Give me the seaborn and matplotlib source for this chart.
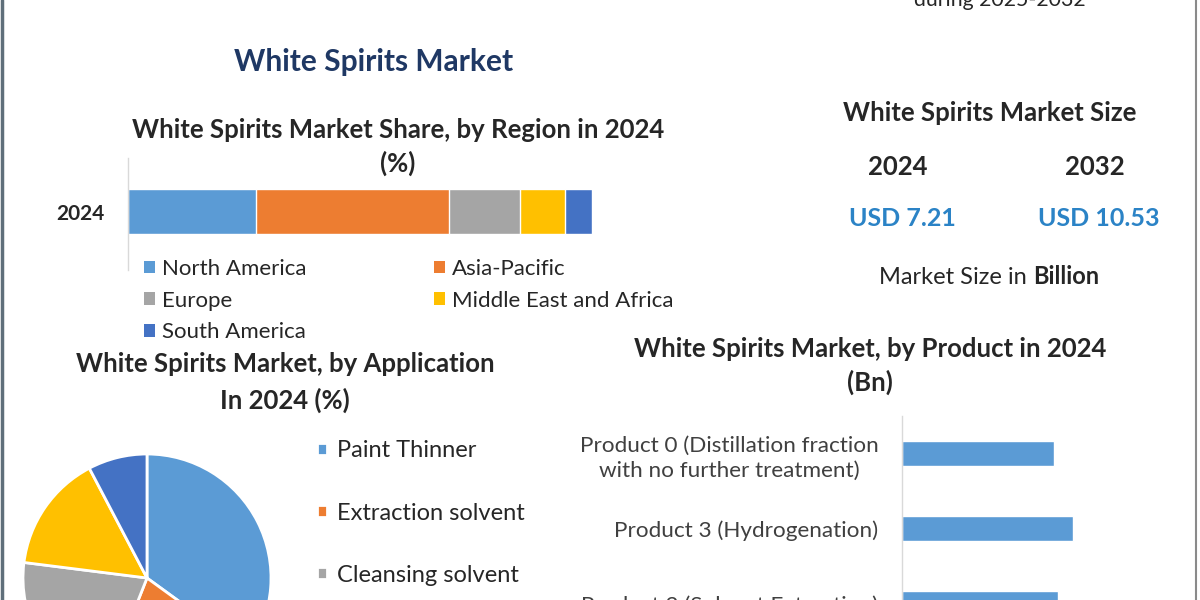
import numpy as np
import pandas as pd
import matplotlib
matplotlib.use("Agg")
import matplotlib.pyplot as plt
from matplotlib.patches import Patch
from matplotlib.lines import Line2D
import seaborn as sns

# --- DATA ---
REGIONS = ["North America", "Asia-Pacific", "Europe", "Middle East and Africa", "South America"]
REGION_SHARE = [27.6, 41.6, 15.3, 9.7, 5.8]
REGION_COLORS = ["#5B9BD5", "#ED7D31", "#A5A5A5", "#FFC000", "#4472C4"]
REGION_YEAR = "2024"

APPLICATIONS = ["Paint Thinner", "Extraction solvent", "Cleansing solvent", "Degreasing solvent", "Others"]
APP_SHARE = [35.0, 21.0, 21.0, 15.3, 7.7]

PRODUCTS = ["Product 0 (Distillation fraction\nwith no further treatment)",
            "Product 3 (Hydrogenation)",
            "Product 2 (Solvent Extraction)"]
PRODUCT_BN = [1.52, 1.71, 1.56]

SIZE_YEARS = ["2024", "2032"]
SIZE_VALUES = ["USD 7.21", "USD 10.53"]

W, H = 1200, 600
NAVY = "#1F3864"
TEXT = "#262626"
USD_BLUE = "#2B83C6"


def px_axes(fig, x0, y0, x1, y1):
    """Add axes from pixel box (top-left origin)."""
    return fig.add_axes([x0 / W, 1 - y1 / H, (x1 - x0) / W, (y1 - y0) / H])


def generate_figure():
    sns.set_style("white")
    plt.rcParams["font.family"] = ["Lato", "DejaVu Sans"]

    fig = plt.figure(figsize=(12, 6), dpi=100)
    fig.patch.set_facecolor("white")

    # frame lines left / right
    fig.add_artist(Line2D([2 / W, 2 / W], [0, 1], color="#5f6f7a", lw=2.5))
    fig.add_artist(Line2D([1196 / W, 1196 / W], [0, 1], color="#8a8a8a", lw=1.5))

    # --- headers ---
    fig.text(1000 / W, 1 - 0 / H, "during 2025-2032", ha="center", va="center",
             fontsize=15.3, color=TEXT)
    fig.text(374 / W, 1 - 62 / H, "White Spirits Market", ha="center", va="center",
             fontsize=21.5, fontweight="bold", color=NAVY)

    # --- Region share (stacked bar) ---
    fig.text(398 / W, 1 - 130 / H, "White Spirits Market Share, by Region in 2024",
             ha="center", va="center", fontsize=18.5, fontweight="bold", color=TEXT)
    fig.text(398 / W, 1 - 163 / H, "(%)", ha="center", va="center",
             fontsize=18.5, fontweight="bold", color=TEXT)

    ax_r = px_axes(fig, 128, 158, 592, 270)
    cum = np.cumsum(REGION_SHARE)
    # stacked bar: draw cumulative totals from the longest down
    for i in range(len(REGIONS) - 1, -1, -1):
        df = pd.DataFrame({"share": [cum[i]], "year": [REGION_YEAR]})
        sns.barplot(data=df, x="share", y="year", orient="h", color=REGION_COLORS[i],
                    saturation=1, width=0.4, ax=ax_r)
    ax_r.set_xlim(0, cum[-1])
    ax_r.set_ylim(0.52, -0.48)
    ax_r.set_xlabel("")
    ax_r.set_ylabel("")
    ax_r.set_xticks([])
    ax_r.tick_params(axis="y", length=0, pad=17, labelsize=15, labelcolor=TEXT)
    for lab in ax_r.get_yticklabels():
        lab.set_fontweight("bold")
    for s in ["top", "right", "bottom"]:
        ax_r.spines[s].set_visible(False)
    ax_r.spines["left"].set_color("#d9d9d9")
    ax_r.spines["left"].set_linewidth(1)

    handles = [Patch(facecolor=c, edgecolor="none") for c in REGION_COLORS]
    order = [0, 2, 4, 1, 3]
    fig.legend([handles[i] for i in order], [REGIONS[i] for i in order],
               ncol=2, loc="upper left", bbox_to_anchor=(135 / W, 1 - 250 / H),
               frameon=False, fontsize=16, labelcolor=TEXT,
               handlelength=0.5, handleheight=0.5, handletextpad=0.3,
               columnspacing=5.75, labelspacing=0.53, borderaxespad=0)

    # --- Market size block ---
    fig.text(990 / W, 1 - 113 / H, "White Spirits Market Size", ha="center", va="center",
             fontsize=18.5, fontweight="bold", color=TEXT)
    for yr, val, xc in zip(SIZE_YEARS, SIZE_VALUES, [898, 1095]):
        fig.text(xc / W, 1 - 167 / H, yr, ha="center", va="center",
                 fontsize=18.5, fontweight="bold", color=TEXT)
        fig.text((xc + 4) / W, 1 - 218 / H, val, ha="center", va="center",
                 fontsize=18, fontweight="bold", color=USD_BLUE)
    fig.text(1033 / W, 1 - 277 / H, "Market Size in ", ha="right", va="center",
             fontsize=17, color=TEXT)
    fig.text(1033 / W, 1 - 277 / H, "Billion", ha="left", va="center",
             fontsize=17, fontweight="bold", color=TEXT)

    # --- Application pie ---
    fig.text(285 / W, 1 - 364 / H, "White Spirits Market, by Application",
             ha="center", va="center", fontsize=18.5, fontweight="bold", color=TEXT)
    fig.text(285 / W, 1 - 400 / H, "In 2024 (%)",
             ha="center", va="center", fontsize=18.5, fontweight="bold", color=TEXT)

    ax_p = px_axes(fig, 23, 454, 271, 702)
    wedges, _ = ax_p.pie(APP_SHARE, colors=REGION_COLORS, startangle=90, counterclock=False,
                         wedgeprops=dict(edgecolor="white", linewidth=2))
    ax_p.set_xlim(-1, 1)
    ax_p.set_ylim(-1, 1)
    ax_p.axis("off")

    fig.legend(wedges, APPLICATIONS, loc="upper left", bbox_to_anchor=(308 / W, 1 - 431 / H),
               frameon=False, fontsize=17, labelcolor=TEXT,
               handlelength=0.4, handleheight=0.4, handletextpad=0.42,
               labelspacing=1.74, borderaxespad=0)

    # --- Product bars ---
    fig.text(870 / W, 1 - 349 / H, "White Spirits Market, by Product in 2024",
             ha="center", va="center", fontsize=18.5, fontweight="bold", color=TEXT)
    fig.text(870 / W, 1 - 382 / H, "(Bn)", ha="center", va="center",
             fontsize=18.5, fontweight="bold", color=TEXT)

    ax_b = px_axes(fig, 902, 416, 1152, 641)
    dfp = pd.DataFrame({"product": PRODUCTS, "bn": PRODUCT_BN})
    sns.barplot(data=dfp, x="bn", y="product", orient="h", color="#5B9BD5",
                saturation=1, width=0.33, ax=ax_b)
    ax_b.set_xlim(0, 2.5)
    ax_b.set_ylim(2.5, -0.5)
    ax_b.set_xlabel("")
    ax_b.set_ylabel("")
    ax_b.set_xticks([])
    ax_b.tick_params(axis="y", length=0, pad=17, labelsize=16.2, labelcolor="#404040")
    for lab in ax_b.get_yticklabels():
        lab.set_multialignment("center")
        lab.set_linespacing(1.35)
    for s in ["top", "right", "bottom"]:
        ax_b.spines[s].set_visible(False)
    ax_b.spines["left"].set_color("#d9d9d9")
    ax_b.spines["left"].set_linewidth(1)

    fig.savefig("out.png", dpi=100, facecolor="white")


if __name__ == "__main__":
    generate_figure()
